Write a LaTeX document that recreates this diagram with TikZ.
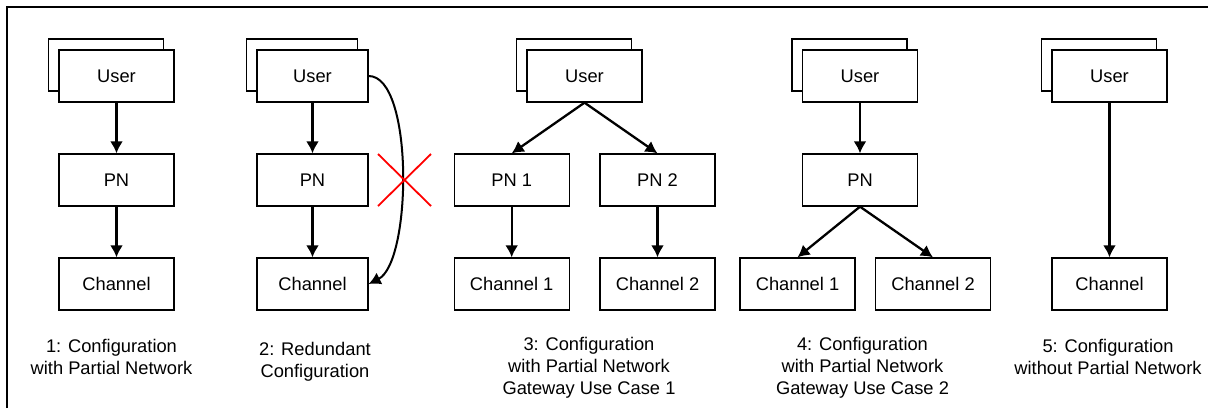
\documentclass[tikz,border=0pt]{standalone}
\usepackage{fontspec}
\setmainfont{Liberation Sans}
\usetikzlibrary{arrows.meta}

\begin{document}
\begin{tikzpicture}[x=1pt,y=-1pt,
    font=\fontsize{18.3}{22}\selectfont,
    box/.style={draw,line width=1.3pt,fill=white,minimum width=115pt,minimum height=52pt,inner sep=0pt},
    arr/.style={line width=2.3pt,-{Latex[width=13pt,length=12pt]}},
    caption/.style={align=center,inner sep=0pt}]

\useasboundingbox (0,0) rectangle (1208,408);
\draw [line width=1.2pt] (7,408) -- (7,7) -- (1208,7);

% 1: with partial network
\node [box] (u1b) at (106,65) {};
\node [box] (u1) at (116.5,76) {User};
\node [box] (p1) at (116.5,180) {PN};
\node [box] (c1) at (116.5,284) {Channel};
\draw [arr] (u1) -- (p1);
\draw [arr] (p1) -- (c1);
\node [caption] (t1) at (111.5,357) {1: Configuration\\with Partial Network};

% 2: redundant
\node [box,minimum width=111pt] (u2b) at (302,65) {};
\node [box,minimum width=111pt] (u2) at (312.5,76) {User};
\node [box,minimum width=111pt] (p2) at (312.5,180) {PN};
\node [box,minimum width=111pt] (c2) at (312.5,284) {Channel};
\draw [arr] (u2) -- (p2);
\draw [arr] (p2) -- (c2);
\draw [arr,line width=2pt] (u2.east) .. controls (414,76) and (412,262) .. (c2.east);
\draw [red,line width=1.8pt] (378,154) -- (431,206);
\draw [red,line width=1.8pt] (378,206) -- (431,154);
\node [caption] (t2) at (315,362) {2: Redundant\\Configuration};

% 3: gateway use case 1
\node [box] (u3b) at (574,65) {};
\node [box] (u3) at (584.5,76) {User};
\node [box] (p3a) at (511.7,180) {PN 1};
\node [box] (p3b) at (657.5,180) {PN 2};
\node [box] (c3a) at (511.7,284) {Channel 1};
\node [box] (c3b) at (657.5,284) {Channel 2};
\draw [arr] (u3.south) -- (p3a.north);
\draw [arr] (u3.south) -- (p3b.north);
\draw [arr] (p3a) -- (c3a);
\draw [arr] (p3b) -- (c3b);
\node [caption] (t3) at (589,368) {3: Configuration\\with Partial Network\\Gateway Use Case 1};

% 4: gateway use case 2
\node [box] (u4b) at (849.5,65) {};
\node [box] (u4) at (860,76) {User};
\node [box] (p4) at (860,180) {PN};
\node [box] (c4a) at (797.5,284) {Channel 1};
\node [box] (c4b) at (933,284) {Channel 2};
\draw [arr] (u4) -- (p4);
\draw [arr] (p4.south) -- (c4a.north);
\draw [arr] (p4.south) -- (c4b.north);
\node [caption] (t4) at (862.5,368) {4: Configuration\\with Partial Network\\Gateway Use Case 2};

% 5: without partial network
\node [box] (u5b) at (1099,65) {};
\node [box] (u5) at (1109.5,76) {User};
\node [box] (c5) at (1109.5,284) {Channel};
\draw [arr] (u5) -- (c5);
\node [caption] (t5) at (1108,357) {5: Configuration\\without Partial Network};

\end{tikzpicture}
\end{document}
